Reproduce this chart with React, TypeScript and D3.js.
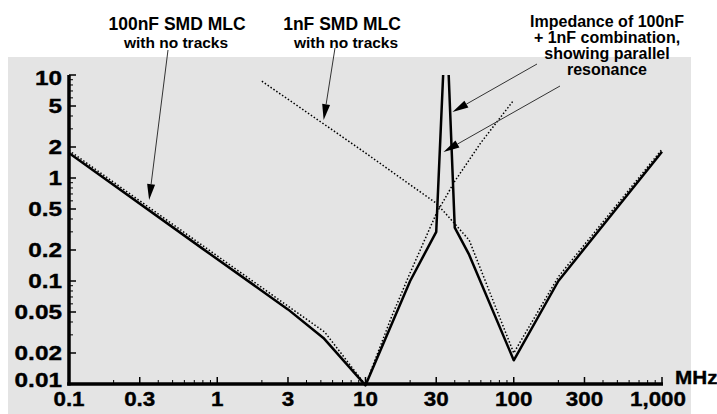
import React from "react";
import * as d3 from "d3";

const W = 717;
const H = 414;

// frequency in MHz, impedance in ohms
const comboFreq = [0.1, 0.8, 3, 5.2, 10, 20, 30, 33.4, 35, 36.4, 40, 50, 100, 200, 1000];
const comboZ = [1.75, 0.205, 0.053, 0.028, 0.0097, 0.1, 0.3, 10, 10000, 10, 0.33, 0.18, 0.017, 0.1, 1.8];

const cap100Freq = [0.1, 0.8, 3, 5.3, 10, 15, 20, 30, 40, 60, 100];
const cap100Z = [1.85, 0.22, 0.057, 0.032, 0.0098, 0.045, 0.12, 0.45, 0.93, 2.2, 5.7];

const cap1Freq = [2, 5, 10, 20, 30, 40, 50, 100, 200, 1000];
const cap1Z = [8.7, 3.5, 1.75, 0.86, 0.57, 0.36, 0.25, 0.02, 0.11, 1.9];

const yTickValues = [10, 5, 2, 1, 0.5, 0.2, 0.1, 0.05, 0.02, 0.01];
const yTickLabels = ["10", "5", "2", "1", "0.5", "0.2", "0.1", "0.05", "0.02", "0.01"];
const xTickValues = [0.1, 0.3, 1, 3, 10, 30, 100, 300, 1000];
const xTickLabels = ["0.1", "0.3", "1", "3", "10", "30", "100", "300", "1,000"];

const FONT = "'Liberation Sans', Arial, Helvetica, sans-serif";

const x = d3.scaleLog().domain([0.1, 1000]).range([69, 662]);
const y = d3.scaleLog().domain([0.01, 10]).range([384, 75]);

const zip = (f: number[], z: number[]) => f.map((v, i) => [v, z[i]] as [number, number]);

const line = d3
  .line<[number, number]>()
  .x((d) => x(d[0]))
  .y((d) => y(d[1]));

// annotation arrows: start in pixels, tip at a point on the chart
const arrows = [
  { from: [168, 50], tip: [0.347, 0.61] },
  { from: [335, 48], tip: [5.22, 3.65] },
  { from: [537, 64], tip: [38.6, 4.37] },
  { from: [560, 86], tip: [33.6, 1.79] },
];

function Arrow({ from, tip }: { from: number[]; tip: number[] }) {
  const tx = x(tip[0]);
  const ty = y(tip[1]);
  const dx = tx - from[0];
  const dy = ty - from[1];
  const len = Math.hypot(dx, dy);
  const ux = dx / len;
  const uy = dy / len;
  const hl = 16;
  const hw = 4;
  const bx = tx - ux * hl;
  const by = ty - uy * hl;
  const pts = [
    [tx, ty],
    [bx - uy * hw, by + ux * hw],
    [bx + uy * hw, by - ux * hw],
  ];
  return (
    <g>
      <line x1={from[0]} y1={from[1]} x2={bx} y2={by} stroke="#333" strokeWidth={1} />
      <polygon points={pts.map((p) => p.join(",")).join(" ")} fill="#000" />
    </g>
  );
}

// wide, heavy label like the original tick text
function Wide({ x: px, y: py, anchor, sx, size, children }: any) {
  return (
    <text
      transform={`translate(${px},${py}) scale(${sx},1)`}
      textAnchor={anchor}
      fontSize={size}
      stroke="#000"
      strokeWidth={0.35}
    >
      {children}
    </text>
  );
}

export default function App() {
  const yMinor = y.ticks().filter((t) => !yTickValues.some((v) => Math.abs(v - t) < 1e-9));
  const xMinor = x.ticks().filter((t) => !xTickValues.some((v) => Math.abs(v - t) < 1e-9));

  return (
    <div style={{ position: "absolute", left: 0, top: 0 }}>
      <svg width={W} height={H} fontFamily={FONT} fontWeight="bold">
        <rect x={0} y={0} width={W} height={H} fill="#fff" />
        <rect x={8} y={57} width={683} height={H - 57} fill="#e4e4e4" />

        <defs>
          <clipPath id="plotClip">
            <rect x={0} y={y(10)} width={W} height={H - y(10)} />
          </clipPath>
        </defs>

        {/* y ticks */}
        {yMinor.map((t) => (
          <line key={"ym" + t} x1={69} x2={73} y1={y(t)} y2={y(t)} stroke="#000" strokeWidth={1} />
        ))}
        {yTickValues.map((t) => (
          <line key={"yM" + t} x1={69} x2={76} y1={y(t)} y2={y(t)} stroke="#000" strokeWidth={1.5} />
        ))}
        {yTickValues.map((t, i) => (
          <Wide
            key={"yl" + t}
            x={62}
            y={Math.min(Math.max(y(t), y(10) + 3), y(0.01) - 4) + 7}
            anchor="end"
            sx={1.25}
            size={19.5}
          >
            {yTickLabels[i]}
          </Wide>
        ))}

        {/* x ticks */}
        {xMinor.map((t) => (
          <line key={"xm" + t} x1={x(t)} x2={x(t)} y1={384} y2={380} stroke="#000" strokeWidth={1} />
        ))}
        {xTickValues.map((t) => (
          <line key={"xM" + t} x1={x(t)} x2={x(t)} y1={384} y2={377} stroke="#000" strokeWidth={1.5} />
        ))}
        {xTickValues.map((t, i) => (
          <Wide key={"xl" + t} x={t === 1000 ? x(t) - 4 : x(t)} y={406} anchor="middle" sx={1.15} size={19.5}>
            {xTickLabels[i]}
          </Wide>
        ))}
        <Wide x={675} y={384} anchor="start" sx={1.15} size={18}>
          MHz
        </Wide>

        {/* axes */}
        <line x1={69} x2={69} y1={75} y2={385.5} stroke="#000" strokeWidth={3.5} />
        <line x1={67.25} x2={663} y1={384} y2={384} stroke="#000" strokeWidth={3.5} />

        {/* curves */}
        <g clipPath="url(#plotClip)" fill="none">
          <path d={line(zip(cap100Freq, cap100Z)) || ""} stroke="#000" strokeWidth={1.5} strokeDasharray="1.5 2" />
          <path d={line(zip(cap1Freq, cap1Z)) || ""} stroke="#000" strokeWidth={1.5} strokeDasharray="1.5 2" />
          <path d={line(zip(comboFreq, comboZ)) || ""} stroke="#000" strokeWidth={2.5} strokeLinejoin="round" />
        </g>

        {/* annotations */}
        <text x={177} y={30} textAnchor="middle" fontSize={17.5}>
          100nF SMD MLC
        </text>
        <text x={176} y={48} textAnchor="middle" fontSize={15.5}>
          with no tracks
        </text>
        <text x={342} y={30} textAnchor="middle" fontSize={17.5}>
          1nF SMD MLC
        </text>
        <text x={346} y={48} textAnchor="middle" fontSize={15.5}>
          with no tracks
        </text>
        <g textAnchor="middle" fontSize={16}>
          <text x={607} y={27}>Impedance of 100nF</text>
          <text x={607} y={43}>+ 1nF combination,</text>
          <text x={607} y={59}>showing parallel</text>
          <text x={607} y={75}>resonance</text>
        </g>

        {arrows.map((a, i) => (
          <Arrow key={i} from={a.from} tip={a.tip} />
        ))}
      </svg>
    </div>
  );
}
